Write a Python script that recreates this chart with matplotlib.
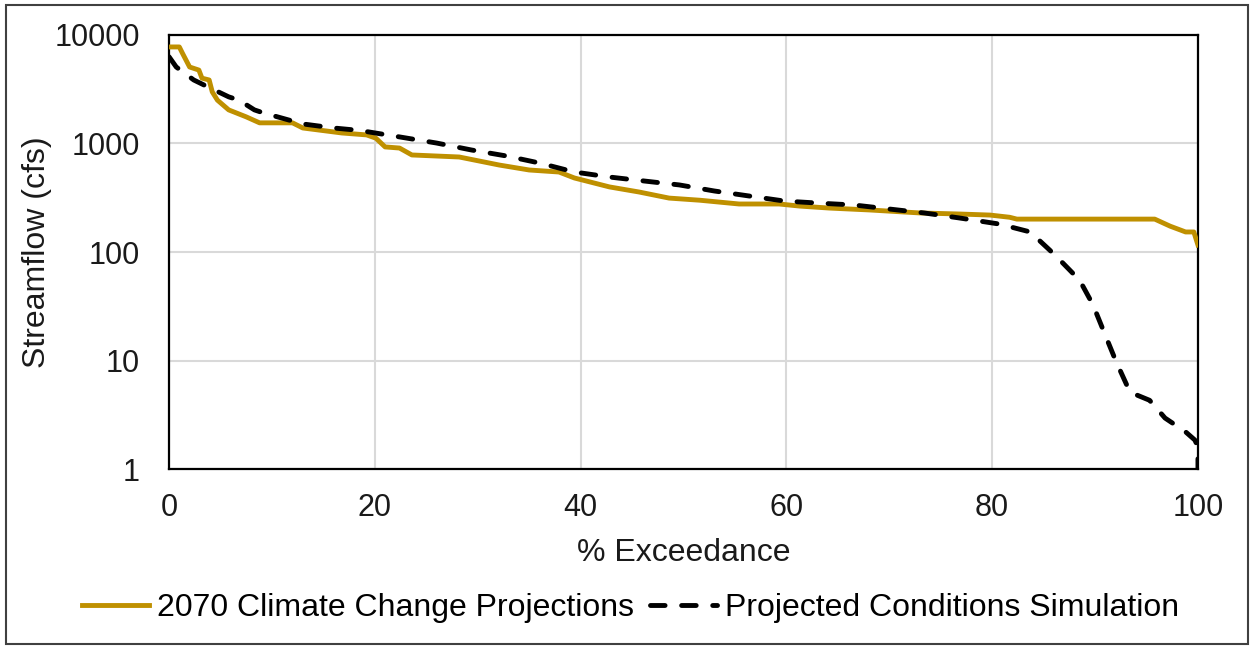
import matplotlib
matplotlib.use("Agg")
import matplotlib.pyplot as plt
from matplotlib.patches import Rectangle

plt.rcParams['font.family'] = ['Liberation Sans', 'DejaVu Sans']

# 2070 climate change projections (gold)
gold_x = [0, 1.0, 1.3, 2.0, 2.9, 3.2, 3.9, 4.2, 4.7, 5.8, 7.5, 8.8, 12.0, 13.0,
          16.8, 19.2, 20.1, 21.0, 22.4, 23.6, 28.2, 32.1, 35.0, 37.9, 39.4, 42.8,
          45.7, 48.6, 51.6, 55.4, 59.3, 61.3, 64.2, 68.1, 73.0, 76.8, 79.8, 81.7,
          82.4, 95.8, 97.3, 98.8, 99.6, 100]
gold_y = [7760, 7760, 6800, 5070, 4750, 4000, 3850, 2990, 2510, 2040, 1760, 1550,
          1550, 1390, 1250, 1200, 1120, 930, 908, 784, 751, 633, 570, 546, 481,
          398, 357, 314, 300, 277, 277, 265, 254, 244, 229, 224, 219, 209, 201,
          201, 173, 153, 153, 116]

# projected conditions simulation (black dashed)
sim_x = [0, 0.7, 2.4, 3.4, 5.8, 6.8, 8.3, 9.2, 11.7, 13.1, 16.0, 18.5, 22.4, 26.0,
         29.4, 32.8, 36.0, 39.4, 42.8, 46.2, 49.6, 53.0, 56.4, 59.8, 63.2, 66.6,
         70.0, 73.4, 76.8, 80.7, 83.7, 85.6, 86.6, 88.5, 89.8, 90.8, 92.0, 93.4,
         95.3, 96.8, 98.8, 99.7, 100, 100]
sim_y = [6300, 5070, 3850, 3460, 2690, 2510, 2040, 1910, 1640, 1510, 1390, 1320,
         1150, 1010, 871, 767, 661, 546, 491, 451, 415, 365, 328, 295, 282, 271,
         249, 229, 206, 181, 153, 104, 84, 55, 32.6, 19, 10, 5.1, 4.3, 2.95, 2.2,
         1.85, 1.6, 1.0]

xticks = [0, 20, 40, 60, 80, 100]
yticks = [1, 10, 100, 1000, 10000]

fig = plt.figure(figsize=(12.54, 6.48), dpi=100)
ax = fig.add_axes([0.1348, 0.2762, 0.8205, 0.6698])

ax.plot(gold_x, gold_y, color='#BF9000', lw=3.5, label='2070 Climate Change Projections',
        solid_joinstyle='round', zorder=3)
ax.plot(sim_x, sim_y, color='black', lw=3.5, dashes=(3, 3.4), dash_capstyle='round',
        label='Projected Conditions Simulation', zorder=4)

ax.set_yscale('log')
ax.set_xlim(0, 100)
ax.set_ylim(1, 10000)
ax.set_xticks(xticks)
ax.set_yticks(yticks)
ax.set_yticklabels([str(v) for v in yticks])
ax.minorticks_off()
ax.tick_params(length=0, labelsize=22, colors='#1a1a1a')
ax.tick_params(axis='y', pad=21)
ax.tick_params(axis='x', pad=17)
ax.grid(True, color='#d9d9d9', lw=1.5)
ax.set_axisbelow(True)
for s in ax.spines.values():
    s.set_linewidth(1.6)
    s.set_color('black')

ax.set_xlabel('% Exceedance', fontsize=23, labelpad=11, color='#1a1a1a')
ax.set_ylabel('Streamflow (cfs)', fontsize=23, color='#1a1a1a')
ax.yaxis.set_label_coords(-0.114, 0.5)

fig.legend(loc='center', bbox_to_anchor=(0.503, 0.062), ncol=2, frameon=False,
           fontsize=23, handlelength=2.1, handletextpad=0.25, columnspacing=0.5)

fig.patches.append(Rectangle((0.005, 0.006), 0.99, 0.986, transform=fig.transFigure,
                             fill=False, edgecolor='#404040', lw=1.5))

fig.savefig('out.png', dpi=100)
